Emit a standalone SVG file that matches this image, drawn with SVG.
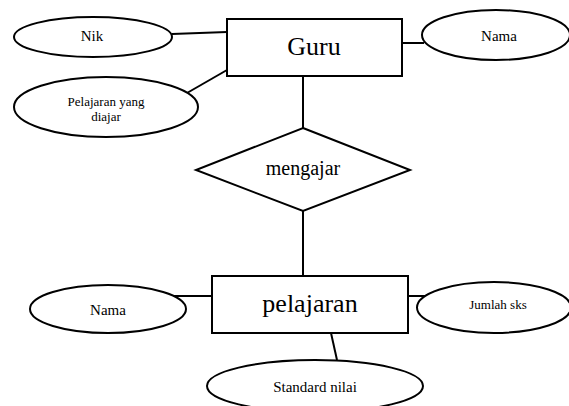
<svg xmlns="http://www.w3.org/2000/svg" width="569" height="406" viewBox="0 0 569 406">
<style>
.s{fill:#fff;stroke:#000;stroke-width:2}
.l{stroke:#000;stroke-width:2;fill:none}
.t{font-family:'Liberation Serif','Times New Roman','DejaVu Serif',serif;fill:#000;text-anchor:middle}
.big{font-size:26px}
.mid{font-size:20px}
.sm{font-size:15px}
.xs{font-size:13px}
</style>
<rect width="569" height="406" fill="#fff"/>
<g id="connectors">
<line class="l" x1="172" y1="34" x2="227" y2="32"/>
<line class="l" x1="187" y1="93" x2="227" y2="70"/>
<line class="l" x1="402" y1="43" x2="424" y2="43"/>
<line class="l" x1="303" y1="77" x2="303" y2="128"/>
<line class="l" x1="303" y1="211" x2="303" y2="276"/>
<line class="l" x1="173" y1="296" x2="212" y2="296"/>
<line class="l" x1="408" y1="296" x2="425" y2="296"/>
<line class="l" x1="331" y1="333" x2="337" y2="360"/>
</g>
<g id="guru">
<rect class="s" x="227" y="19" width="175" height="57"/>
<text class="t big" x="314" y="55" font-family="Liberation Serif, serif">Guru</text>
</g>
<g id="nik">
<ellipse class="s" cx="93" cy="37" rx="79" ry="20"/>
<text class="t sm" x="92" y="41" font-family="Liberation Serif, serif">Nik</text>
</g>
<g id="pelajaran-diajar">
<ellipse class="s" cx="106" cy="107" rx="92" ry="30"/>
<text class="t xs" x="106" y="106" font-family="Liberation Serif, serif">Pelajaran yang</text>
<text class="t xs" x="106" y="121" font-family="Liberation Serif, serif">diajar</text>
</g>
<g id="nama-guru">
<ellipse class="s" cx="496" cy="35" rx="74" ry="25"/>
<text class="t sm" x="499" y="41" font-family="Liberation Serif, serif">Nama</text>
</g>
<g id="mengajar">
<polygon class="s" points="303,128 410,170 303,211 196,170"/>
<text class="t mid" x="303" y="175" font-family="Liberation Serif, serif">mengajar</text>
</g>
<g id="pelajaran">
<rect class="s" x="212" y="276" width="196" height="57"/>
<text class="t big" x="310" y="312" font-family="Liberation Serif, serif">pelajaran</text>
</g>
<g id="nama-pelajaran">
<ellipse class="s" cx="108" cy="309" rx="78" ry="24"/>
<text class="t sm" x="108" y="315" font-family="Liberation Serif, serif">Nama</text>
</g>
<g id="jumlah-sks">
<ellipse class="s" cx="494" cy="307.5" rx="77" ry="25.5"/>
<text class="t xs" x="498" y="309" font-family="Liberation Serif, serif">Jumlah sks</text>
</g>
<g id="standard-nilai">
<ellipse class="s" cx="315" cy="386" rx="108" ry="26"/>
<text class="t sm" x="315" y="392" font-family="Liberation Serif, serif">Standard nilai</text>
</g>
</svg>
